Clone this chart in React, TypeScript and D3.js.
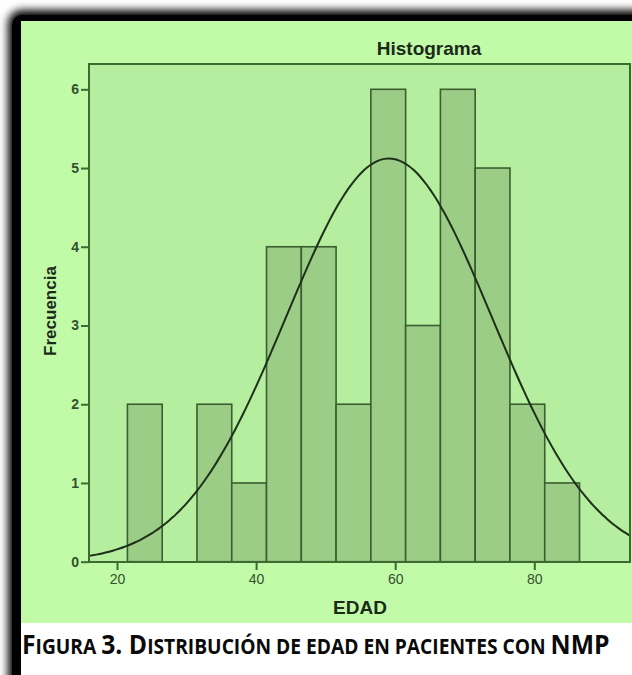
import React, { useEffect, useRef } from "react";
import * as d3 from "d3";

// histogram bins (age, 5-year bins) and counts
const binStarts = [21.5, 26.5, 31.5, 36.5, 41.5, 46.5, 51.5, 56.5, 61.5, 66.5, 71.5, 76.5, 81.5];
const counts = [2, 0, 2, 1, 4, 4, 2, 6, 3, 6, 5, 2, 1];
const binWidth = 5;
const xTicks = [20, 40, 60, 80];
const yTicks = [0, 1, 2, 3, 4, 5, 6];
// fitted normal curve
const curveMean = 59.1;
const curveSd = 14.8;

const W = 632;
const H = 675;

const App = () => {
  const ref = useRef<SVGSVGElement | null>(null);

  useEffect(() => {
    const svg = d3.select(ref.current);
    svg.selectAll("*").remove();

    const plot = { left: 89, top: 64, right: 630, bottom: 562 };
    const x = d3.scaleLinear().domain([20, 80]).range([117, 534.3]);
    const y = d3.scaleLinear().domain([0, 6]).range([561.7, 89.3]);

    const defs = svg.append("defs");
    defs
      .append("filter")
      .attr("id", "blur")
      .attr("x", "-10%")
      .attr("y", "-10%")
      .attr("width", "120%")
      .attr("height", "120%")
      .append("feGaussianBlur")
      .attr("stdDeviation", 4);
    defs
      .append("clipPath")
      .attr("id", "plotclip")
      .append("rect")
      .attr("x", plot.left)
      .attr("y", plot.top)
      .attr("width", plot.right - plot.left)
      .attr("height", plot.bottom - plot.top);

    // page + frame
    svg.append("rect").attr("width", W).attr("height", H).attr("fill", "#fff");
    svg
      .append("rect")
      .attr("x", 8)
      .attr("y", 10)
      .attr("width", 700)
      .attr("height", 760)
      .attr("rx", 14)
      .attr("fill", "#000")
      .attr("filter", "url(#blur)");
    svg
      .append("rect")
      .attr("x", 12)
      .attr("y", 15)
      .attr("width", 700)
      .attr("height", 760)
      .attr("rx", 10)
      .attr("fill", "#000");
    svg
      .append("rect")
      .attr("x", 21)
      .attr("y", 21)
      .attr("width", W - 21)
      .attr("height", 602)
      .attr("fill", "#c1fba8");
    svg
      .append("rect")
      .attr("x", 21)
      .attr("y", 623)
      .attr("width", W - 21)
      .attr("height", H - 623)
      .attr("fill", "#fff");

    // plot area
    svg
      .append("rect")
      .attr("x", plot.left)
      .attr("y", plot.top)
      .attr("width", plot.right - plot.left)
      .attr("height", plot.bottom - plot.top)
      .attr("fill", "#b5ee9e");

    const g = svg.append("g").attr("clip-path", "url(#plotclip)");

    g.selectAll("rect.bar")
      .data(binStarts.map((s, i) => ({ s, c: counts[i] })).filter((d) => d.c > 0))
      .join("rect")
      .attr("class", "bar")
      .attr("x", (d) => x(d.s))
      .attr("y", (d) => y(d.c))
      .attr("width", (d) => x(d.s + binWidth) - x(d.s))
      .attr("height", (d) => y(0) - y(d.c))
      .attr("fill", "#9ccd86")
      .attr("stroke", "#3a5e2f")
      .attr("stroke-width", 1.6);

    // normal curve
    const total = d3.sum(counts);
    const xs = d3.range(15, 96, 0.5);
    const pdf = (v: number) =>
      (total * binWidth) / (curveSd * Math.sqrt(2 * Math.PI)) *
      Math.exp(-0.5 * ((v - curveMean) / curveSd) ** 2);
    const line = d3
      .line<number>()
      .x((v) => x(v))
      .y((v) => y(pdf(v)))
      .curve(d3.curveBasis);
    g.append("path")
      .datum(xs)
      .attr("d", line)
      .attr("fill", "none")
      .attr("stroke", "#1e2f1a")
      .attr("stroke-width", 2);

    // frame
    svg
      .append("rect")
      .attr("x", plot.left)
      .attr("y", plot.top)
      .attr("width", plot.right - plot.left)
      .attr("height", plot.bottom - plot.top)
      .attr("fill", "none")
      .attr("stroke", "#3d6a31")
      .attr("stroke-width", 2);

    // y axis
    const yAxis = svg
      .append("g")
      .attr("transform", `translate(${plot.left},0)`)
      .call(
        d3
          .axisLeft(y)
          .tickValues(yTicks)
          .tickFormat(d3.format("d"))
          .tickSize(8)
          .tickSizeOuter(0)
          .tickPadding(2)
      );
    yAxis.select(".domain").remove();
    yAxis.selectAll("line").attr("stroke", "#3d6a31").attr("stroke-width", 2);
    yAxis
      .selectAll("text")
      .attr("fill", "#34502d")
      .attr("font-family", "Liberation Sans, Arial, sans-serif")
      .attr("font-size", 14)
      .attr("font-weight", "bold");

    // x axis
    const xAxis = svg
      .append("g")
      .attr("transform", `translate(0,${plot.bottom})`)
      .call(
        d3
          .axisBottom(x)
          .tickValues(xTicks)
          .tickFormat(d3.format("d"))
          .tickSize(8)
          .tickSizeOuter(0)
          .tickPadding(4)
      );
    xAxis.select(".domain").remove();
    xAxis.selectAll("line").attr("stroke", "#3d6a31").attr("stroke-width", 2);
    xAxis
      .selectAll("text")
      .attr("fill", "#34502d")
      .attr("font-family", "Liberation Sans, Arial, sans-serif")
      .attr("font-size", 14);

    // titles
    svg
      .append("text")
      .attr("x", 429)
      .attr("y", 55)
      .attr("text-anchor", "middle")
      .attr("font-family", "Liberation Sans, Arial, sans-serif")
      .attr("font-weight", "bold")
      .attr("font-size", 19)
      .attr("fill", "#1c2a19")
      .text("Histograma");
    svg
      .append("text")
      .attr("x", 360)
      .attr("y", 614)
      .attr("text-anchor", "middle")
      .attr("font-family", "Liberation Sans, Arial, sans-serif")
      .attr("font-weight", "bold")
      .attr("font-size", 19)
      .attr("fill", "#1c2a19")
      .text("EDAD");
    svg
      .append("text")
      .attr("transform", "translate(56,311) rotate(-90)")
      .attr("text-anchor", "middle")
      .attr("font-family", "Liberation Sans, Arial, sans-serif")
      .attr("font-weight", "bold")
      .attr("font-size", 17)
      .attr("fill", "#1c2a19")
      .text("Frecuencia");

    // caption in small caps, squeezed horizontally to the reference width
    const parts: [string, number][] = [
      ["F", 27],
      ["IGURA ", 21],
      ["3. D", 27],
      ["ISTRIBUCIÓN DE EDAD EN PACIENTES CON ", 21],
      ["NMP", 27],
    ];
    const capG = svg.append("g");
    const cap = capG
      .append("text")
      .attr("x", 0)
      .attr("y", 0)
      .attr("font-family", "Open Sans, Noto Sans, sans-serif")
      .attr("font-weight", "bold")
      .attr("fill", "#0a0a0a");
    parts.forEach(([t, s]) => cap.append("tspan").attr("font-size", s).text(t));
    const capW = (cap.node() as SVGTextElement).getComputedTextLength() || 588;
    capG.attr("transform", `translate(22,654) scale(${588 / capW},1)`);
  }, []);

  return (
    <svg
      ref={ref}
      width={W}
      height={H}
      style={{ position: "fixed", left: 0, top: 0, display: "block" }}
    />
  );
};

export default App;
